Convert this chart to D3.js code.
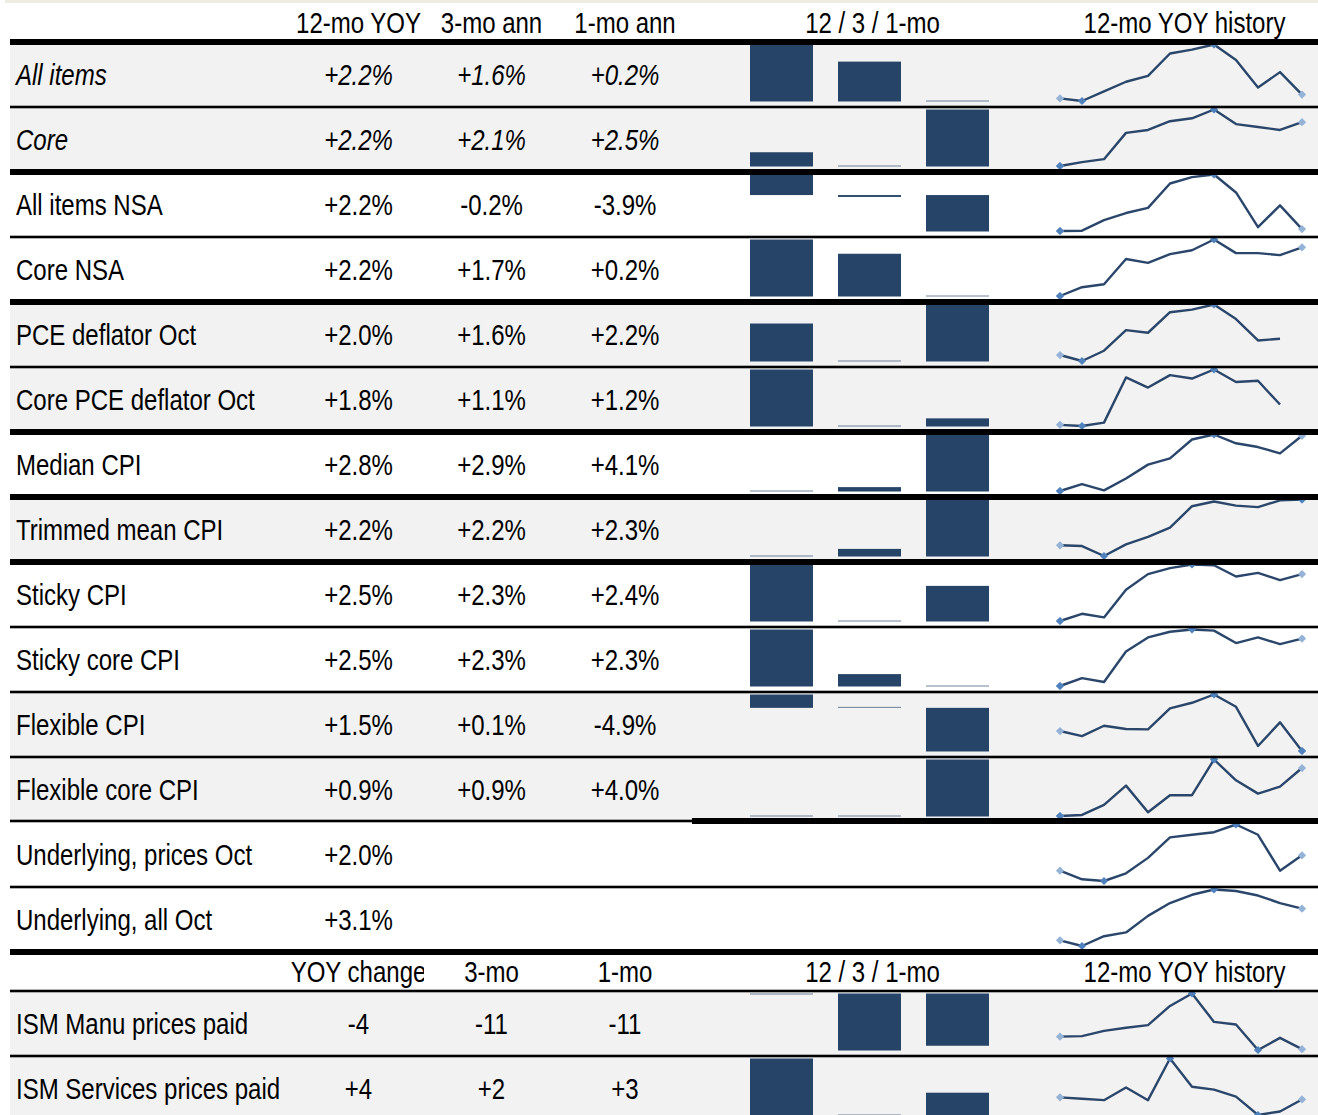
<!DOCTYPE html>
<html><head><meta charset="utf-8">
<script src="https://cdn.jsdelivr.net/npm/d3@7"></script>
<style>
body{margin:0;background:#fff}
svg{display:block}
text{font-family:"Liberation Sans",Arial,sans-serif;font-size:29px;fill:#000}
</style>
</head><body><svg id="c" width="1318" height="1115"></svg>
<script>
// ---------- DATA ----------
const headerTop = ["12-mo YOY", "3-mo ann", "1-mo ann", "12 / 3 / 1-mo", "12-mo YOY history"];
const headerIsm = ["YOY change", "3-mo", "1-mo", "12 / 3 / 1-mo", "12-mo YOY history"];

const rowLabels = ["All items", "Core", "All items NSA", "Core NSA", "PCE deflator Oct",
  "Core PCE deflator Oct", "Median CPI", "Trimmed mean CPI", "Sticky CPI", "Sticky core CPI",
  "Flexible CPI", "Flexible core CPI", "Underlying, prices Oct", "Underlying, all Oct"];
const italicRows = ["All items", "Core"];
const yoy12 = [2.2, 2.2, 2.2, 2.2, 2.0, 1.8, 2.8, 2.19, 2.48, 2.50, 1.5, 0.9, 2.0, 3.1];
const ann3  = [1.6, 2.1, -0.2, 1.7, 1.6, 1.1, 2.9, 2.21, 2.32, 2.32, 0.1, 0.9, null, null];
const ann1  = [0.2, 2.5, -3.9, 0.2, 2.2, 1.2, 4.1, 2.34, 2.42, 2.27, -4.9, 4.0, null, null];
const grayRows = [1, 1, 0, 0, 1, 1, 0, 1, 0, 0, 1, 1, 0, 0];
const sepAfter = ["thin", "thick", "thin", "thick", "thin", "thick", "thick", "thick",
  "thin", "thin", "thin", "split", "thin", "thick"];

const histAllItems   = [2.11, 2.07, 2.22, 2.37, 2.46, 2.81, 2.87, 2.95, 2.71, 2.28, 2.52, 2.17];
const histCore       = [1.77, 1.81, 1.84, 2.11, 2.14, 2.23, 2.26, 2.35, 2.20, 2.17, 2.14, 2.22];
const histAllNSA     = [2.07, 2.075, 2.24, 2.35, 2.43, 2.81, 2.91, 2.95, 2.67, 2.13, 2.47, 2.10];
const histCoreNSA    = [1.77, 1.86, 1.89, 2.15, 2.11, 2.20, 2.24, 2.35, 2.21, 2.21, 2.19, 2.27];
const histPCE        = [1.79, 1.72, 1.84, 2.08, 2.05, 2.29, 2.32, 2.38, 2.21, 1.96, 1.98, null];
const histCorePCE    = [1.51, 1.50, 1.53, 1.93, 1.84, 1.95, 1.92, 2.00, 1.89, 1.90, 1.69, null];
const histMedian     = [2.40, 2.455, 2.405, 2.50, 2.61, 2.66, 2.81, 2.85, 2.78, 2.75, 2.70, 2.84];
const histTrimmed    = [1.92, 1.915, 1.85, 1.926, 1.975, 2.036, 2.176, 2.207, 2.18, 2.17, 2.214, 2.22];
const histSticky     = [2.10, 2.16, 2.13, 2.36, 2.49, 2.54, 2.57, 2.564, 2.47, 2.50, 2.44, 2.49];
const histStickyCore = [2.10, 2.17, 2.135, 2.405, 2.53, 2.58, 2.60, 2.59, 2.48, 2.53, 2.47, 2.52];
const histFlex       = [2.49, 2.24, 2.75, 2.59, 2.57, 3.61, 3.89, 4.30, 3.69, 1.75, 2.92, 1.50];
const histFlexCore   = [0.00, 0.02, 0.21, 0.57, 0.07, 0.39, 0.39, 1.06, 0.67, 0.42, 0.55, 0.90];
const histUndPrices  = [1.82, 1.72, 1.70, 1.79, 1.97, 2.21, 2.24, 2.27, 2.36, 2.24, 1.82, 2.00];
const histUndAll     = [2.675, 2.60, 2.73, 2.78, 3.00, 3.17, 3.28, 3.35, 3.33, 3.27, 3.17, 3.095];
const histRows = [histAllItems, histCore, histAllNSA, histCoreNSA, histPCE, histCorePCE,
  histMedian, histTrimmed, histSticky, histStickyCore, histFlex, histFlexCore,
  histUndPrices, histUndAll];

const ismLabels = ["ISM Manu prices paid", "ISM Services prices paid"];
const ismYoy = [-4, 4.0];
const ism3   = [-11.2, 2.0];
const ism1   = [-10.6, 2.8];
const histIsmManu = [64.6, 64.8, 66.6, 67.7, 68.6, 75.2, 79.5, 69.7, 68.8, 60.0, 64.2, 60.3];
const histIsmServ = [62.5, 62.3, 62.1, 63.9, 62.1, 68.0, 64.0, 63.6, 62.6, 60.0, 60.5, 62.2];
const histIsm = [histIsmManu, histIsmServ];

// ---------- STYLE / LAYOUT ----------
const W = 1318, H = 1115;
const left = 10, right = 1318;
const pitch = 65, firstTop = 42, headH2 = 39;
const colX = [358.5, 491.5, 625];
const barColX = 872.5, histColX = 1184.5;
const barColor = "#264468", lineColor = "#2a466b";
const gray = "#f2f2f2";
const narrow = 0.828;   // condensed (Arial Narrow-like) glyphs

const loc = d3.formatLocale({decimal: ".", thousands: ",", grouping: [3], currency: ["$", ""], minus: "-"});
const fPct = v => loc.format("+.1f")(v) + "%";
const fInt = v => loc.format("+.0f")(v);

const svg = d3.select("#c");
svg.append("rect").attr("width", W).attr("height", H).attr("fill", "#fff");
svg.append("rect").attr("x", 5).attr("y", 0).attr("width", W - 5).attr("height", 3).attr("fill", "#efece2");

const defs = svg.append("defs");
defs.append("clipPath").attr("id", "clipYoy").append("rect")
  .attr("x", 280).attr("y", 940).attr("width", 144).attr("height", 60);

const xBar = d3.scaleBand().domain([0, 1, 2]).range([750, 989]).paddingInner(25 / 88).paddingOuter(0);
const xHist = d3.scaleLinear().domain([0, 11]).range([1060, 1302]);

const gBg = svg.append("g"), gMarks = svg.append("g"), gText = svg.append("g"), gLines = svg.append("g");

function txt(parent, x, y, s, anchor, italic) {
  return parent.append("text")
    .attr("transform", `translate(${x},${y}) scale(${narrow},1)`)
    .attr("text-anchor", anchor || "start")
    .attr("font-style", italic ? "italic" : null)
    .text(s);
}

function drawBars(vals, top) {
  const lo = d3.min(vals), hi = d3.max(vals);
  const y = d3.scaleLinear().domain([lo, hi]).range([top + 59.5, top + 2.5]);
  const base = lo >= 0 ? y(lo) : (hi <= 0 ? y(hi) : y(0));
  gMarks.append("g").selectAll("rect").data(vals).join("rect")
    .attr("x", (d, i) => xBar(i)).attr("width", xBar.bandwidth())
    .attr("y", d => {
      const h = Math.abs(y(d) - base);
      if (h < 1) return hi <= 0 ? base : base - 1;
      return Math.min(y(d), base);
    })
    .attr("height", d => Math.max(1, Math.abs(y(d) - base)))
    .attr("fill", barColor)
    .attr("fill-opacity", d => Math.abs(y(d) - base) < 1 ? 0.65 : 1);
}

function drawSpark(vals, top) {
  const valid = vals.map((v, i) => ({v, i})).filter(d => d.v != null);
  const y = d3.scaleLinear().domain(d3.extent(valid, d => d.v)).range([top + 59, top + 2.5]);
  const line = d3.line().defined(d => d.v != null).x(d => xHist(d.i)).y(d => y(d.v));
  const g = gMarks.append("g");
  g.append("path").datum(vals.map((v, i) => ({v, i})))
    .attr("d", line).attr("fill", "none").attr("stroke", lineColor)
    .attr("stroke-width", 2.4).attr("stroke-linejoin", "round");
  const light = "#95b3d7", mid = "#4f81bd";
  const firstI = 0, lastI = vals.length - 1;
  const hiI = valid.reduce((a, b) => b.v > a.v ? b : a).i;
  const loI = valid.reduce((a, b) => b.v < a.v ? b : a).i;
  const marks = [];
  if (vals[firstI] != null) marks.push({i: firstI, c: light});
  if (vals[lastI] != null) marks.push({i: lastI, c: light});
  marks.push({i: hiI, c: mid});
  marks.push({i: loI, c: mid});
  const sym = d3.symbol().type(d3.symbolSquare).size(34);
  g.selectAll("path.m").data(marks).join("path").attr("class", "m")
    .attr("d", sym)
    .attr("transform", d => `translate(${xHist(d.i)},${y(vals[d.i])}) rotate(45)`)
    .attr("fill", d => d.c);
}

function sep(y, kind, x0 = left, x1 = right) {
  const w = kind === "thick" ? 6 : 2.6;
  gLines.append("rect").attr("x", x0).attr("y", y - w / 2).attr("width", x1 - x0).attr("height", w).attr("fill", "#000");
}

function header(texts, base, clipFirst) {
  texts.forEach((t, i) => {
    const x = i < 3 ? colX[i] : (i === 3 ? barColX : histColX);
    const holder = (i === 0 && clipFirst) ? gText.append("g").attr("clip-path", "url(#clipYoy)") : gText;
    txt(holder, x, base, t, "middle");
  });
}

// header 1
header(headerTop, 33, false);
sep(firstTop, "thick");

// data rows
rowLabels.forEach((lab, i) => {
  const top = firstTop + pitch * i;
  if (grayRows[i]) gBg.append("rect").attr("x", left).attr("y", top).attr("width", right - left).attr("height", pitch).attr("fill", gray);
  const it = italicRows.includes(lab);
  const base = top + 42.5;
  txt(gText, 16, base, lab, "start", it);
  [yoy12[i], ann3[i], ann1[i]].forEach((v, k) => {
    if (v == null) return;
    txt(gText, colX[k], base, fPct(v), "middle", it);
  });
  if (ann3[i] != null) drawBars([yoy12[i], ann3[i], ann1[i]], top);
  drawSpark(histRows[i], top);
  const yb = top + pitch;
  if (sepAfter[i] === "split") { sep(yb - 1, "thin"); sep(yb - 1, "thick", 692, right); }
  else sep(yb, sepAfter[i]);
});

// header 2
const h2Top = firstTop + pitch * rowLabels.length;
header(headerIsm, h2Top + 30, true);
const ismTop0 = h2Top + headH2;
sep(ismTop0, "thin");

ismLabels.forEach((lab, k) => {
  const top = ismTop0 + pitch * k;
  gBg.append("rect").attr("x", left).attr("y", top).attr("width", right - left).attr("height", pitch).attr("fill", gray);
  const base = top + 42.5;
  txt(gText, 16, base, lab, "start", false);
  [ismYoy[k], ism3[k], ism1[k]].forEach((v, j) => {
    txt(gText, colX[j], base, fInt(v), "middle", false);
  });
  drawBars([ismYoy[k], ism3[k], ism1[k]], top);
  drawSpark(histIsm[k], top);
  sep(top + pitch, "thin");
});
</script>
</body></html>
